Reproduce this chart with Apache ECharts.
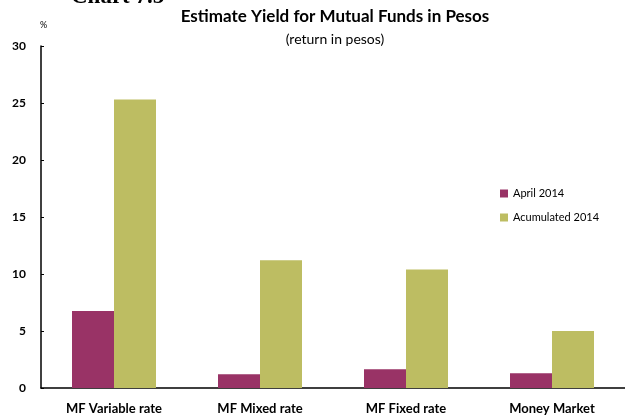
<!DOCTYPE html>
<html>
<head>
<meta charset="utf-8">
<script src="https://cdn.jsdelivr.net/npm/echarts@6/dist/echarts.min.js"></script>
<style>html,body{margin:0;padding:0;background:#fff}#c{width:625px;height:417px}</style>
</head>
<body>
<div id="c"></div>
<script>
const categories = ["MF Variable rate", "MF Mixed rate", "MF Fixed rate", "Money Market"];
const april2014 = [6.75, 1.2, 1.65, 1.3];
const accumulated2014 = [25.3, 11.2, 10.4, 5.0];
const yTicks = [0, 5, 10, 15, 20, 25, 30];

const F = "Lato, 'DejaVu Sans', sans-serif";
const chart = echarts.init(document.getElementById('c'), null, {renderer: 'canvas'});
chart.setOption({
  animation: false,
  backgroundColor: '#fff',
  graphic: [
    {type: 'text', left: 71, top: -14, style: {text: 'Chart 7.5', font: 'bold 23px "Liberation Serif", serif', fill: '#000'}},
    {type: 'text', left: 40, top: 21, style: {text: '%', font: '9px ' + F, fill: '#000'}}
  ],
  title: {
    text: 'Estimate Yield for Mutual Funds in Pesos',
    subtext: '(return in pesos)',
    left: 330, textAlign: 'center', top: 3,
    itemGap: 7,
    textStyle: {fontFamily: F, fontWeight: 'bold', fontSize: 17, color: '#000'},
    subtextStyle: {fontFamily: F, fontSize: 14, color: '#000'}
  },
  legend: {
    orient: 'vertical', left: 495, top: 183,
    itemWidth: 8, itemHeight: 8, itemGap: 13,
    icon: 'rect',
    textStyle: {fontFamily: F, fontSize: 11, color: '#000'},
    data: ['April 2014', 'Acumulated 2014']
  },
  grid: {left: 41, right: 0, top: 46, bottom: 29, containLabel: false},
  xAxis: {
    type: 'category', data: categories,
    axisLine: {lineStyle: {color: '#000', width: 1.5}},
    axisTick: {inside: true, length: 4, lineStyle: {color: '#000', width: 1}},
    axisLabel: {fontFamily: F, fontWeight: 'bold', fontSize: 13, color: '#000', margin: 14}
  },
  yAxis: {
    type: 'value', min: yTicks[0], max: yTicks[yTicks.length - 1], interval: 5,
    axisLine: {show: true, lineStyle: {color: '#000', width: 1.5}},
    axisTick: {show: true, inside: true, length: 3, lineStyle: {color: '#000'}},
    splitLine: {show: false},
    axisLabel: {fontFamily: F, fontWeight: 'bold', fontSize: 12, color: '#000', margin: 15}
  },
  series: [
    {name: 'April 2014', type: 'bar', data: april2014, barWidth: 42, barGap: '0%', itemStyle: {color: '#993366'}},
    {name: 'Acumulated 2014', type: 'bar', data: accumulated2014, barWidth: 42, barGap: '0%', itemStyle: {color: '#BDBD62'}}
  ]
});
</script>
</body>
</html>
